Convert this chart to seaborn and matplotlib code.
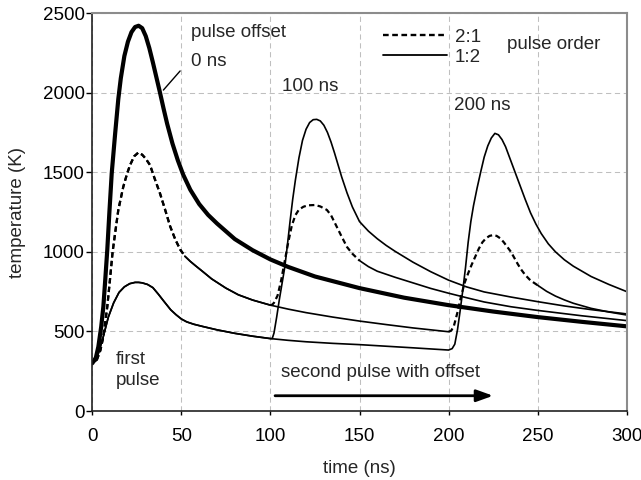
#!/usr/bin/env python3
# plot: two-pulse heating, temperature vs time for different pulse offsets

import matplotlib
matplotlib.use('Agg')
import matplotlib.pyplot as plt
from matplotlib.lines import Line2D
import seaborn as sns

# Data =========================================================================

# first pulse only, weak pulse first (order 1:2)
t_first_weak = [0, 1.5, 3.5, 6, 9, 12, 15, 18, 21, 24, 26, 28, 31, 34, 37, 40,
                44, 47, 50, 53, 57, 62, 70, 80, 90, 100, 110, 120, 135, 150,
                165, 180, 200]
T_first_weak = [300, 320, 365, 460, 590, 680, 745, 780, 800, 808, 808, 805,
                795, 775, 735, 692, 636, 605, 578, 560, 545, 531, 510, 488,
                470, 455, 444, 435, 425, 417, 407, 397, 383]

# first pulse only, strong pulse first (order 2:1)
t_first_strong = [0, 2.5, 4.5, 6.2, 8.4, 9.9, 11.4, 12.8, 14.6, 17.4, 19.5,
                  21.2, 23.5, 25.8, 28, 30, 32.4, 35, 38, 41, 43.7, 46.5, 49.3,
                  52, 55, 58, 62, 67, 75, 82, 90, 100, 110, 120, 135, 150, 165,
                  180, 200]
T_first_strong = [300, 320, 380, 467, 655, 823, 1000, 1116, 1263, 1409, 1490,
                  1545, 1600, 1623, 1610, 1585, 1545, 1460, 1367, 1260, 1160,
                  1080, 1015, 972, 940, 912, 876, 830, 772, 730, 697, 665, 640,
                  618, 590, 565, 543, 522, 498]

# both pulses at once (offset 0 ns)
t_offset_0 = [0, 2, 3.4, 5, 6.2, 7.3, 8.4, 9.6, 10.9, 12.8, 14.6, 16, 18, 20,
              22, 24, 26, 28, 30, 32, 34, 36, 38, 40, 42, 45, 48, 51, 55, 60,
              65, 70, 80, 90, 100, 110, 125, 150, 175, 200, 225, 250, 275, 300]
T_offset_0 = [300, 335, 404, 530, 655, 830, 1011, 1250, 1493, 1740, 1960, 2090,
              2230, 2320, 2380, 2412, 2420, 2405, 2355, 2280, 2190, 2095, 2000,
              1900, 1805, 1680, 1575, 1485, 1390, 1300, 1232, 1178, 1080, 1010,
              952, 905, 845, 772, 712, 665, 625, 590, 560, 532]

# second pulse, order 1:2
t_12_100 = [101, 102, 103.5, 105, 106.5, 108, 109.5, 111, 112.5, 114, 116, 118,
            120, 122, 124, 126, 128, 130, 132, 134, 136, 138, 140, 143, 146,
            150, 155, 160, 165, 170, 180, 190, 200, 210, 220, 235, 250, 265,
            280, 300]
T_12_100 = [455, 490, 590, 700, 800, 900, 1040, 1190, 1330, 1450, 1590, 1700,
            1770, 1812, 1830, 1832, 1822, 1795, 1750, 1690, 1620, 1545, 1470,
            1370, 1282, 1190, 1130, 1082, 1040, 1003, 935, 875, 822, 780, 748,
            716, 687, 660, 637, 610]
t_12_200 = [202, 203.5, 205, 206.5, 208, 209.5, 211, 212.5, 214, 216, 218, 220,
            222, 224, 226, 228, 230, 232, 234, 236, 238, 240, 243, 246, 249,
            252, 256, 260, 265, 270, 280, 290, 300]
T_12_200 = [392, 420, 510, 630, 760, 900, 1060, 1190, 1290, 1400, 1500, 1595,
            1665, 1715, 1744, 1735, 1705, 1660, 1600, 1540, 1480, 1420, 1330,
            1245, 1175, 1115, 1050, 1000, 950, 910, 845, 795, 750]

# second pulse, order 2:1
t_21_100 = [101, 102, 104, 106, 108, 110, 112, 114, 116, 118.5, 121, 125, 128,
            131.7, 134, 136, 138, 140, 143, 146, 150, 155, 160, 170, 180, 190,
            200, 210, 220, 235, 250, 275, 300]
T_21_100 = [668, 680, 725, 820, 940, 1060, 1165, 1230, 1265, 1283, 1292, 1294,
            1285, 1263, 1230, 1185, 1140, 1095, 1030, 988, 945, 907, 878, 840,
            805, 770, 740, 712, 685, 655, 632, 598, 568]
t_21_200 = [201.5, 203, 205, 207, 209, 211, 213, 215, 217, 219, 221, 223, 225,
            227, 229, 231, 233, 235, 237, 239, 241, 243, 246, 250, 255, 260,
            265, 270, 280, 290, 300]
T_21_200 = [505, 535, 620, 720, 805, 865, 920, 970, 1020, 1060, 1085, 1100,
            1105, 1100, 1085, 1060, 1030, 1000, 960, 920, 885, 855, 820, 790,
            752, 722, 698, 677, 645, 622, 603]

x_ticks = [0, 50, 100, 150, 200, 250, 300]
y_ticks = [0, 500, 1000, 1500, 2000, 2500]

# Functions ====================================================================

DASH = (0, (2.4, 1.5))


def join(t_a, T_a, t_b, T_b, t_cut):
    ts = [t for t in t_a if t <= t_cut]
    return ts + t_b, T_a[:len(ts)] + T_b


def runs(ts, Ts, dashed_ranges):
    out = []
    for i in range(len(ts) - 1):
        mid = (ts[i] + ts[i + 1]) / 2
        dashed = any(a <= mid <= b for a, b in dashed_ranges)
        if out and out[-1][0] == dashed:
            out[-1][1].append(ts[i + 1])
            out[-1][2].append(Ts[i + 1])
        else:
            out.append([dashed, [ts[i], ts[i + 1]], [Ts[i], Ts[i + 1]]])
    return out


def draw(ax, ts, Ts, dashed_ranges=(), lw=1.2):
    for dashed, xs, ys in runs(ts, Ts, dashed_ranges):
        sns.lineplot(
            x=xs, y=ys, ax=ax, color='black', sort=False, estimator=None,
            lw=1.6 if dashed else lw, linestyle=DASH if dashed else '-',
            solid_joinstyle='round', solid_capstyle='round'
        )


def main():
    sns.set_theme(style='ticks')
    plt.rcParams['font.family'] = ['Liberation Sans', 'DejaVu Sans']
    fs = 13.5

    fig = plt.figure(figsize=(6.41, 4.8), dpi=100)
    ax = fig.add_axes([0.144, 0.1437, 0.8337, 0.8292])

    # order 1:2
    t, T = join(t_first_weak, T_first_weak, t_12_100, T_12_100, 100)
    draw(ax, t, T)
    t, T = join(t_first_weak, T_first_weak, t_12_200, T_12_200, 200)
    draw(ax, t, T)
    # order 2:1
    t, T = join(t_first_strong, T_first_strong, t_21_100, T_21_100, 100)
    draw(ax, t, T, [(2.5, 52), (100, 151)])
    t, T = join(t_first_strong, T_first_strong, t_21_200, T_21_200, 200)
    draw(ax, t, T, [(2.5, 52), (200, 250)])
    # offset 0 ns
    draw(ax, t_offset_0, T_offset_0, lw=3.0)

    ax.set_xlim(0, 300)
    ax.set_ylim(0, 2500)
    ax.set_xticks(x_ticks)
    ax.set_yticks(y_ticks)
    ax.grid(True, color='#bfbfbf', lw=0.75, linestyle=(0, (5, 3.5)))
    ax.set_axisbelow(True)
    for side in ('top', 'right'):
        ax.spines[side].set_visible(True)
        ax.spines[side].set_color('#8c8c8c')
        ax.spines[side].set_linewidth(1.5)
    for side in ('left', 'bottom'):
        ax.spines[side].set_color('#222222')
        ax.spines[side].set_linewidth(1.2)
    ax.tick_params(axis='y', direction='out', length=4.5, width=1,
                   pad=0.8, labelsize=fs, colors='black')
    ax.tick_params(axis='x', direction='out', length=3, width=1,
                   pad=9.5, labelsize=fs, colors='black')

    ax.set_xlabel('time (ns)', fontsize=fs)
    ax.set_ylabel('temperature (K)', fontsize=fs)
    ax.xaxis.set_label_coords(0.5, -0.122)
    ax.yaxis.set_label_coords(-0.124, 0.5)

    # annotations
    ax.text(55.3, 2375, 'pulse offset', fontsize=fs, va='center')
    ax.text(55.3, 2195, '0 ns', fontsize=fs, va='center')
    ax.plot([39.9, 49.3], [2016, 2136], color='black', lw=1)
    ax.text(106.4, 2041, '100 ns', fontsize=fs, va='center')
    ax.text(202.8, 1922, '200 ns', fontsize=fs, va='center')
    ax.text(232.8, 2305, 'pulse order', fontsize=fs, va='center')
    ax.text(13.3, 258, 'first\npulse', fontsize=fs, va='center',
            linespacing=1.25)
    ax.text(106, 245, 'second pulse with offset', fontsize=fs, va='center')
    ax.annotate(
        '', xy=(225, 96), xytext=(102.6, 96),
        arrowprops=dict(arrowstyle='-|>,head_length=0.5,head_width=0.18',
                        mutation_scale=20, lw=2, color='black',
                        shrinkA=0, shrinkB=0)
    )

    handles = [
        Line2D([], [], color='black', lw=1.7, linestyle=DASH),
        Line2D([], [], color='black', lw=1.3),
    ]
    ax.legend(handles, ['2:1', '1:2'], loc='upper left',
              bbox_to_anchor=(0.5445, 0.96), frameon=False, fontsize=fs,
              handlelength=3.4, handletextpad=0.4, labelspacing=0.15,
              borderpad=0, borderaxespad=0)

    fig.savefig('out.png', dpi=100)


# Execute ======================================================================

if __name__ == '__main__':
    main()
